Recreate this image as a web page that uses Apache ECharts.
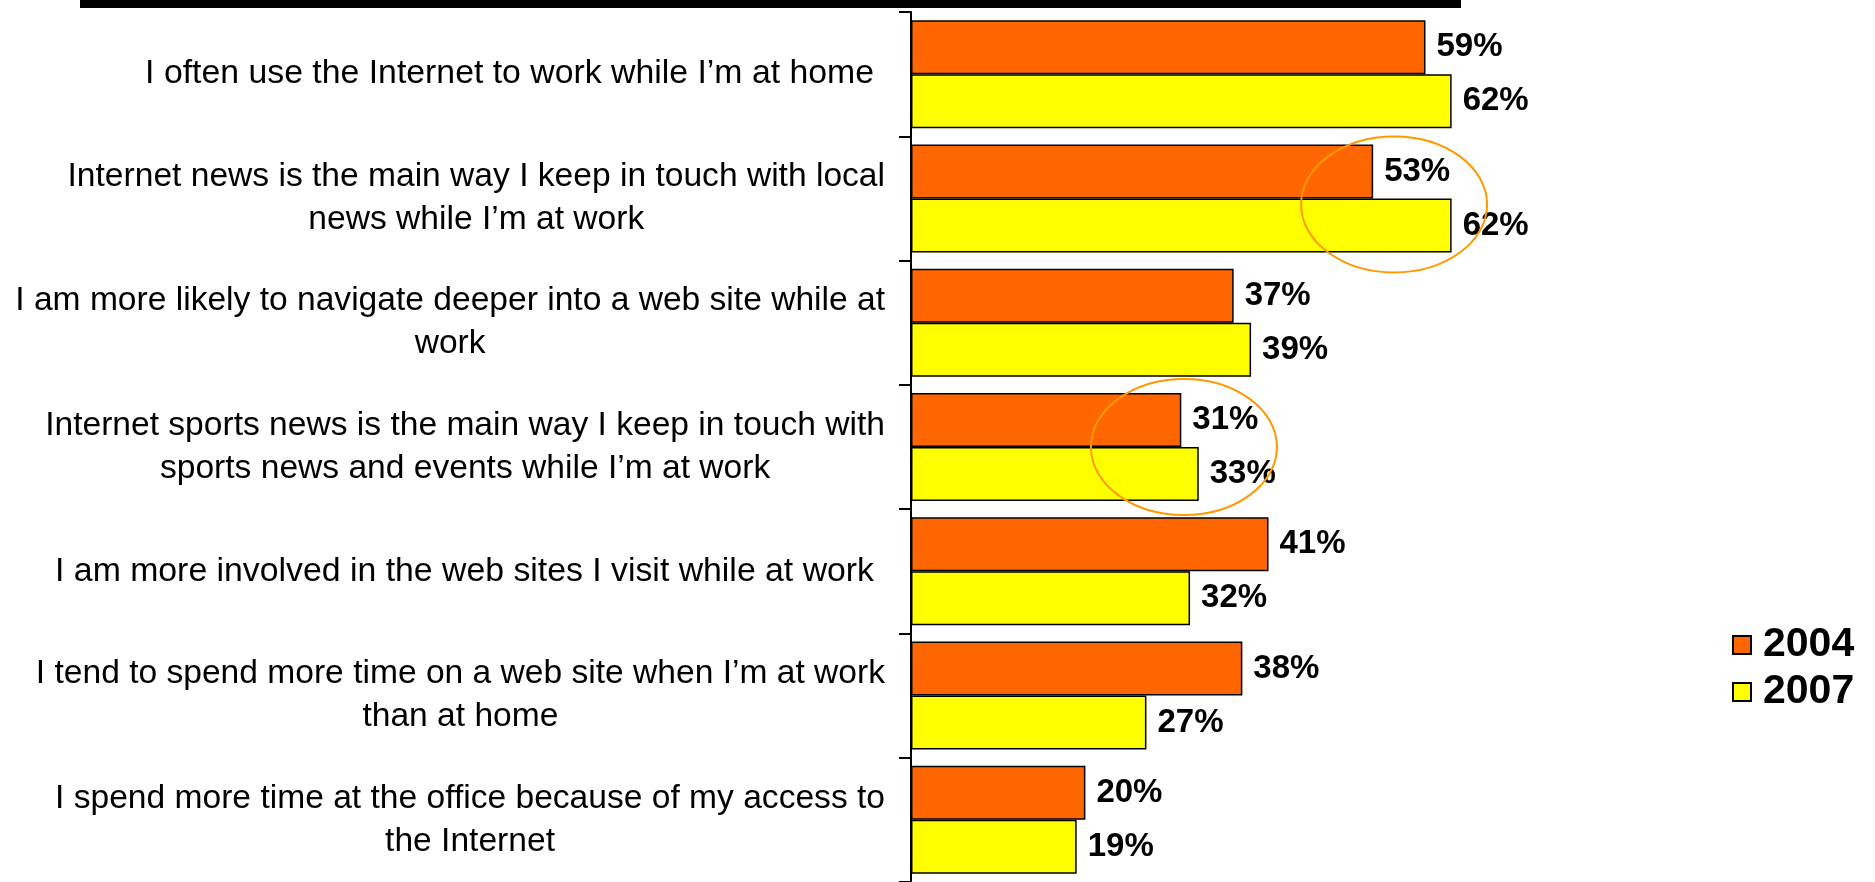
<!DOCTYPE html>
<html>
<head>
<meta charset="utf-8">
<script src="https://cdn.jsdelivr.net/npm/echarts@6/dist/echarts.min.js"></script>
<style>
html,body{margin:0;padding:0;background:#fff;}
#chart{width:1875px;height:882px;}
</style>
</head>
<body>
<div id="chart"></div>
<script>
const categories = [
  "I often use the Internet to work while I’m at home",
  "Internet news is the main way I keep in touch with local\nnews while I’m at work",
  "I am more likely to navigate deeper into a web site while at\nwork",
  "Internet sports news is the main way I keep in touch with\nsports news and events while I’m at work",
  "I am more involved in the web sites I visit while at work",
  "I tend to spend more time on a web site when I’m at work\nthan at home",
  "I spend more time at the office because of my access to\nthe Internet"
];
const seriesNames = ["2004", "2007"];
const values2004 = [59, 53, 37, 31, 41, 38, 20];
const values2007 = [62, 62, 39, 33, 32, 27, 19];
// highlighted groups (category index, value at centre of the circle)
const highlightCats = [1, 3];
const highlightVals = [55.4, 31.3];

const FONT = '"Liberation Sans", Arial, Helvetica, sans-serif';
const chart = echarts.init(document.getElementById('chart'), null, {renderer: 'canvas'});

const labelStyle = {
  show: true, position: 'right', distance: 11,
  formatter: '{c}%', color: '#000', fontSize: 33, fontWeight: 'bold', fontFamily: FONT
};

chart.setOption({
  animation: false,
  backgroundColor: '#fff',
  grid: {left: 911, top: 12, width: 872, height: 878.5, containLabel: false},
  xAxis: {type: 'value', min: 0, max: 100, show: false},
  yAxis: {
    type: 'category', inverse: true, data: categories,
    axisLine: {show: true, lineStyle: {color: '#000', width: 2}},
    axisTick: {show: true, length: 12, lineStyle: {color: '#000', width: 2}},
    splitLine: {show: false},
    axisLabel: {
      margin: 26,
      formatter: function (v) {
        const lines = v.split('\n');
        if (lines.length === 1) return '{s|' + v + '}';
        return lines.map(l => '{c|' + l + '}').join('\n');
      },
      rich: {
        c: {align: 'center', fontSize: 33.6, lineHeight: 43, fontFamily: FONT, color: '#000'},
        s: {align: 'center', fontSize: 33.8, lineHeight: 43, fontFamily: FONT, color: '#000', padding: [0, 11, 0, 0]}
      }
    }
  },
  legend: {
    orient: 'vertical', left: 1727, top: 618,
    itemWidth: 18, itemHeight: 18, itemGap: 3, icon: 'rect',
    data: seriesNames,
    textStyle: {fontSize: 41, fontWeight: 'bold', fontFamily: FONT, color: '#000', lineHeight: 44, padding: [0, 0, 0, 7]}
  },
  series: [
    {name: seriesNames[0], type: 'bar', data: values2004, barWidth: 54, barGap: '0%',
     itemStyle: {color: '#FF6600', borderColor: '#000', borderWidth: 1.5}, label: labelStyle},
    {name: seriesNames[1], type: 'bar', data: values2007, barWidth: 54, barGap: '0%',
     itemStyle: {color: '#FFFF00', borderColor: '#000', borderWidth: 1.5}, label: labelStyle}
  ]
});

// annotation graphics: top rule and highlight ellipses anchored to data
const gfx = [{type: 'rect', shape: {x: 80, y: 0, width: 1381, height: 8}, style: {fill: '#000'}, silent: true}];
const yOff = [6, 0];
highlightCats.forEach(function (ci, i) {
  const p = chart.convertToPixel({gridIndex: 0}, [highlightVals[i], ci]);
  gfx.push({
    type: 'ellipse', z: 100,
    shape: {cx: p[0], cy: p[1] + yOff[i], rx: 93, ry: 68},
    style: {fill: 'none', stroke: '#FF9900', lineWidth: 2},
    silent: true
  });
});
chart.setOption({graphic: gfx});
</script>
</body>
</html>
